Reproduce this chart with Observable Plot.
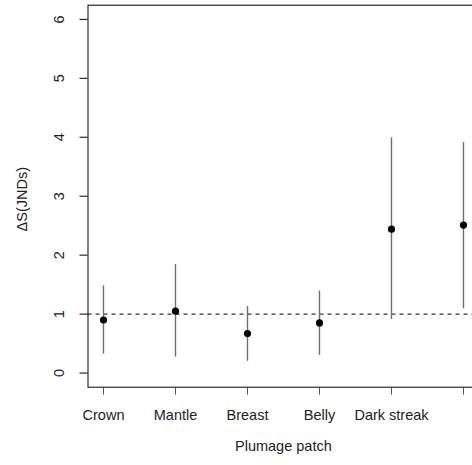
<!DOCTYPE html>
<html>
<head>
<meta charset="utf-8">
<script src="https://cdn.jsdelivr.net/npm/d3@7"></script>
<script src="https://cdn.jsdelivr.net/npm/@observablehq/plot@0.6"></script>
<style>
  html, body { margin: 0; padding: 0; background: #fff; overflow: hidden; }
  #chart { width: 472px; height: 465px; overflow: hidden; }
</style>
</head>
<body>
<div id="chart"></div>
<script>
const categories = ["Crown", "Mantle", "Breast", "Belly", "Dark streak", "Patch 6"];
const tickLabels = ["Crown", "Mantle", "Breast", "Belly", "Dark streak", ""];
const means = [0.90, 1.05, 0.67, 0.85, 2.44, 2.51];
const lower = [0.32, 0.27, 0.20, 0.30, 0.91, 1.09];
const upper = [1.48, 1.84, 1.13, 1.39, 3.99, 3.91];
const yTicks = [0, 1, 2, 3, 4, 5, 6];
const threshold = [1];

const data = categories.map((c, i) => ({patch: c, mean: means[i], lo: lower[i], hi: upper[i]}));
const labelOf = new Map(categories.map((c, i) => [c, tickLabels[i]]));

const font = "Liberation Sans, Arial, Helvetica, sans-serif";
const fs = 14.5;

const chart = Plot.plot({
  width: 472,
  height: 465,
  marginLeft: 87.5,
  marginRight: -6.2,
  marginTop: 4.7,
  marginBottom: 78.3,
  style: {fontFamily: font, fontSize: fs + "px", color: "#000", background: "#fff", overflow: "hidden"},
  x: {type: "point", domain: categories, padding: 0.2, axis: null},
  y: {domain: [-0.24, 6.24], axis: null},
  marks: [
    Plot.ruleY(threshold, {stroke: "#000", strokeWidth: 1, strokeDasharray: "4,4"}),
    Plot.ruleX(data, {x: "patch", y1: "lo", y2: "hi", stroke: "#6e6e6e", strokeWidth: 1.4}),
    Plot.dot(data, {x: "patch", y: "mean", r: 3.6, fill: "#000", stroke: null}),
    Plot.frame({stroke: "#000", strokeWidth: 1}),
    Plot.axisX({
      domain: categories,
      label: null,
      tickSize: 8,
      tickPadding: 14.6,
      tickFormat: d => labelOf.get(d),
      stroke: "#555",
      fontSize: fs,
      fill: "#222"
    }),
    Plot.axisY({
      ticks: yTicks,
      label: null,
      tickSize: 8,
      tickPadding: 16,
      tickRotate: -90,
      tickFormat: d => String(d),
      fontSize: fs,
      fill: "#222"
    }),
    Plot.text(["ΔS(JNDs)"], {frameAnchor: "left", textAnchor: "middle", dx: -66, dy: 3, rotate: -90, fontSize: fs, fill: "#222"}),
    Plot.text(["Plumage patch"], {frameAnchor: "bottom", dy: 64, fontSize: fs, fill: "#222"})
  ]
});
document.getElementById("chart").appendChild(chart);
</script>
</body>
</html>
